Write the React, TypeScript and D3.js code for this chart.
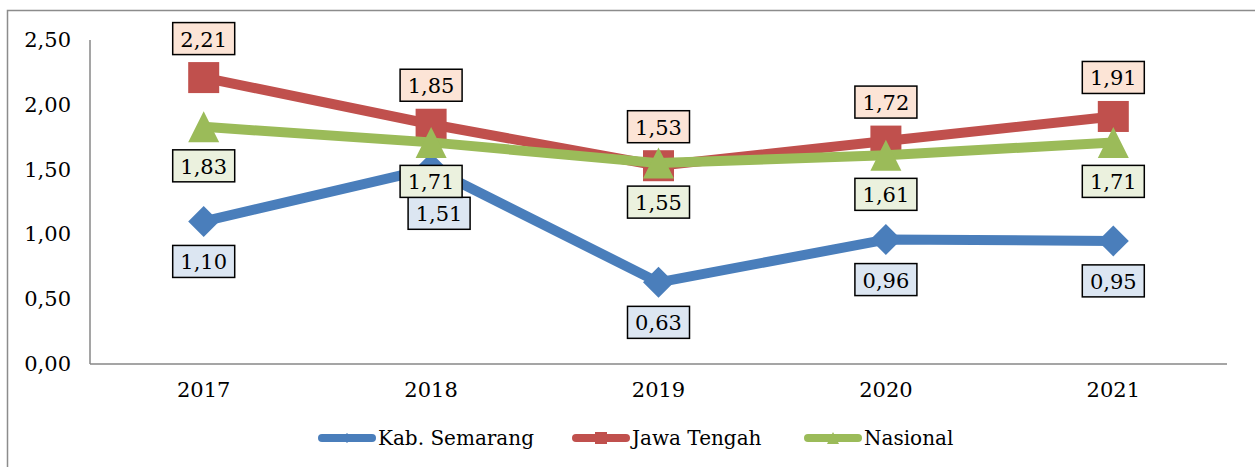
import React from 'react';
import * as d3 from 'd3';

const WIDTH = 1255;
const HEIGHT = 467;
const MARGIN = { top: 40, right: 28, bottom: 103, left: 90 };

const years = ['2017', '2018', '2019', '2020', '2021'];
const kabSemarang = [1.10, 1.51, 0.63, 0.96, 0.95];
const jawaTengah = [2.21, 1.85, 1.53, 1.72, 1.91];
const nasional = [1.83, 1.71, 1.55, 1.61, 1.71];
const yTicks = [0, 0.5, 1, 1.5, 2, 2.5];

const FONT = '"DejaVu Serif", serif';

const series = [
  { name: 'Kab. Semarang', values: kabSemarang, color: '#4A7EBB', box: '#DCE6F2', marker: 'diamond', labelDy: 40 },
  { name: 'Jawa Tengah', values: jawaTengah, color: '#C0504D', box: '#FCE4D6', marker: 'square', labelDy: -39 },
  { name: 'Nasional', values: nasional, color: '#9BBB59', box: '#EBF1DE', marker: 'triangle', labelDy: 39 },
];

// the 1,51 box was nudged by hand in the original so it does not sit on 1,71
const nudge: Record<string, [number, number]> = { 'Kab. Semarang-1': [8, 5] };

const fmt = (v: number) => d3.format('.2f')(v).replace('.', ',');

const Marker = ({ type, x, y, s, fill }: { type: string; x: number; y: number; s: number; fill: string }) => {
  const h = s / 2;
  if (type === 'square') return <rect x={x - h} y={y - h} width={s} height={s} fill={fill} />;
  if (type === 'triangle')
    return <path d={`M${x},${y - h}L${x + h},${y + h}L${x - h},${y + h}Z`} fill={fill} />;
  return <path d={`M${x},${y - h}L${x + h},${y}L${x},${y + h}L${x - h},${y}Z`} fill={fill} />;
};

const App = () => {
  const x = d3.scaleBand<string>()
    .domain(years)
    .range([MARGIN.left, WIDTH - MARGIN.right]);
  const y = d3.scaleLinear()
    .domain([0, 2.5])
    .range([HEIGHT - MARGIN.bottom, MARGIN.top]);
  const cx = (yr: string) => (x(yr) as number) + x.bandwidth() / 2;
  const line = d3.line<number>()
    .x((_, i) => cx(years[i]))
    .y(d => y(d));

  const legendX = [318, 572, 804];
  const legendY = 438;

  return (
    <svg width={WIDTH} height={HEIGHT} style={{ position: 'absolute', left: 0, top: 0 }} fontFamily={FONT}>
      <rect x={0} y={0} width={WIDTH} height={HEIGHT} fill="#fff" />
      <rect x={7.5} y={10.5} width={WIDTH + 20} height={HEIGHT + 20} fill="none" stroke="#8c8c8c" strokeWidth={1.5} />

      {/* axes */}
      <line x1={MARGIN.left} x2={MARGIN.left} y1={y(2.5)} y2={y(0)} stroke="#878787" strokeWidth={1.5} />
      <line x1={MARGIN.left} x2={WIDTH - MARGIN.right} y1={y(0)} y2={y(0)} stroke="#878787" strokeWidth={1.5} />
      {yTicks.map(t => (
        <text key={t} x={71} y={y(t)} textAnchor="end" dominantBaseline="central" fontSize={21} fill="#000">
          {fmt(t)}
        </text>
      ))}
      {years.map(yr => (
        <text key={yr} x={cx(yr)} y={390} textAnchor="middle" dominantBaseline="central" fontSize={21} fill="#000">
          {yr}
        </text>
      ))}

      {/* lines and markers */}
      {series.map(s => (
        <g key={s.name}>
          <path d={line(s.values) as string} fill="none" stroke={s.color} strokeWidth={10} strokeLinejoin="round" />
          {s.values.map((v, i) => (
            <Marker key={i} type={s.marker} x={cx(years[i])} y={y(v)} s={31} fill={s.color} />
          ))}
        </g>
      ))}

      {/* data labels */}
      {series.map(s => (
        <g key={s.name + '-lab'}>
          {s.values.map((v, i) => {
            const [nx, ny] = nudge[`${s.name}-${i}`] || [0, 0];
            const lx = cx(years[i]) + nx;
            const ly = y(v) + s.labelDy + ny;
            return (
              <g key={i}>
                <rect x={lx - 31} y={ly - 16} width={62} height={32} fill={s.box} stroke="#000" strokeWidth={1.5} />
                <text x={lx} y={ly + 1} textAnchor="middle" dominantBaseline="central" fontSize={21} fill="#000">
                  {fmt(v)}
                </text>
              </g>
            );
          })}
        </g>
      ))}

      {/* legend */}
      {series.map((s, i) => (
        <g key={s.name + '-leg'}>
          <line x1={legendX[i] + 4} x2={legendX[i] + 54} y1={legendY} y2={legendY} stroke={s.color} strokeWidth={8} strokeLinecap="round" />
          <Marker type={s.marker} x={legendX[i] + 29} y={legendY} s={s.marker === 'diamond' ? 10 : 12} fill={s.color} />
          <text x={legendX[i] + 60} y={legendY} dominantBaseline="central" fontSize={20} fill="#000">
            {s.name}
          </text>
        </g>
      ))}
    </svg>
  );
};

export default App;
